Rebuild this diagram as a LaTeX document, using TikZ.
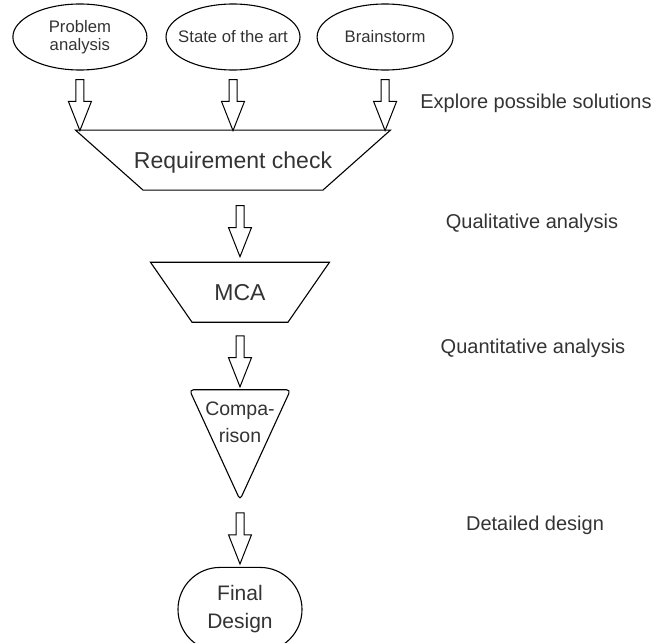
\documentclass[tikz,border=0pt]{standalone}
\usepackage{fontspec}
\setmainfont{Liberation Sans}
\usetikzlibrary{positioning,calc,shapes.geometric,shapes.arrows}
\definecolor{ink}{HTML}{333333}

\begin{document}
\begin{tikzpicture}[
x=1bp, y=1bp,
line width=1.1bp,
source/.style={
    draw,
    ellipse,
    align=center,
    text=ink,
    minimum width=134bp,
    minimum height=66bp,
    inner xsep=-12bp,
    inner ysep=0pt,
    font=\fontsize{16.7bp}{18bp}\selectfont
},
filter/.style={
    draw,
    trapezium,
    shape border rotate=180,
    trapezium stretches body,
    inner xsep=-20bp,
    inner ysep=0pt,
    text height=38.2bp,
    text depth=21.8bp,
    text=ink,
    font=\fontsize{23bp}{26bp}\selectfont
},
sieve/.style={
    minimum width=100bp,
    minimum height=109bp,
    align=center,
    inner sep=0pt,
    text height=52bp,
    text depth=57bp,
    text=ink,
    font=\fontsize{19.5bp}{27bp}\selectfont
},
result/.style={
    draw,
    rectangle,
    rounded corners=41.9bp,
    minimum width=124bp,
    minimum height=84bp,
    align=center,
    text=ink,
    font=\fontsize{21bp}{28bp}\selectfont
},
flow/.style={
    draw,
    single arrow,
    rotate=-90,
    minimum height=51bp,
    inner xsep=0pt,
    inner ysep=3.5bp,
    single arrow head extend=7.5bp,
    single arrow tip angle=43,
    line width=1bp
},
phase/.style={
    text=ink,
    font=\fontsize{20bp}{24bp}\selectfont
}
]
\useasboundingbox (0,0) rectangle (652,-643);

% Fuentes de ideas
\node[source] (state) at (233,-37) {State of the art};
\node[source, left=18bp of state] (problem) {Problem\\analysis};
\node[source, right=16bp of state, minimum width=136bp] (brain) {Brainstorm};

% Embudo de seleccion
\node[filter, trapezium angle=41.6, minimum width=315bp, below=59bp of state] (req) {Requirement check};
\node[filter, trapezium angle=55.3, minimum width=179bp, below=71bp of req, xshift=7bp] (mca) {MCA};
\node[sieve, below=67bp of mca] (comp) {Compa-\\rison};
\draw[rounded corners=4bp] (comp.north west) -- (comp.north east) -- (comp.south) -- cycle;
\node[result, below=67bp of comp] (final) {Final\\Design};

% Flechas huecas
\node[flow] (fprob) at ($(problem.south)!.5!(problem.south |- req.north)$) {};
\node[flow] (fstate) at ($(state.south)!.5!(state.south |- req.north)$) {};
\node[flow] (fbrain) at ($(brain.south)!.5!(brain.south |- req.north)$) {};
\node[flow] (freq) at ($(req.south -| mca)!.5!(mca.north)$) {};
\node[flow] (fmca) at ($(mca.south)!.5!(comp.north)$) {};
\node[flow] (fcomp) at ($(comp.south)!.5!(final.north)$) {};

% Etapas
\node[phase] (explore) at (536,-103) {Explore possible solutions};
\node[phase] (quali) at (532,-223) {Qualitative analysis};
\node[phase] (quanti) at (533,-348) {Quantitative analysis};
\node[phase] (detail) at (535,-525) {Detailed design};

\end{tikzpicture}
\end{document}
